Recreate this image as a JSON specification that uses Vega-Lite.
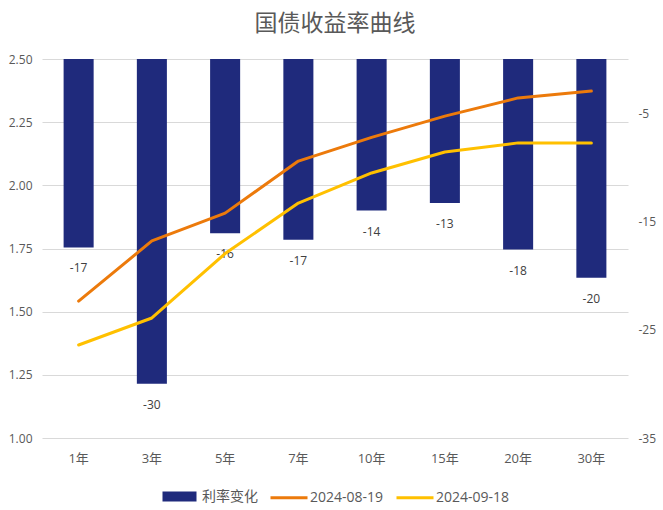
{
  "$schema": "https://vega.github.io/schema/vega-lite/v6.json",
  "width": 586,
  "height": 379,
  "autosize": {"type": "none"},
  "padding": {"left": 42, "top": 59, "right": 35, "bottom": 72},
  "background": "white",
  "title": {"text": "国债收益率曲线", "font": "Noto Sans CJK SC", "fontSize": 23, "fontWeight": "normal", "color": "#595959", "anchor": "middle", "offset": 17},
  "config": {"view": {"stroke": null}, "font": "Open Sans", "legend": {"layout": {"bottom": {"anchor": "middle"}}}},
  "datasets": {
    "bars": [
      {"term": "1年", "change": -17.4, "label": "-17", "series": "利率变化"},
      {"term": "3年", "change": -30.0, "label": "-30", "series": "利率变化"},
      {"term": "5年", "change": -16.1, "label": "-16", "series": "利率变化"},
      {"term": "7年", "change": -16.7, "label": "-17", "series": "利率变化"},
      {"term": "10年", "change": -14.0, "label": "-14", "series": "利率变化"},
      {"term": "15年", "change": -13.3, "label": "-13", "series": "利率变化"},
      {"term": "20年", "change": -17.6, "label": "-18", "series": "利率变化"},
      {"term": "30年", "change": -20.2, "label": "-20", "series": "利率变化"}
    ],
    "lines": [
      {"term": "1年", "yield": 1.542, "series": "2024-08-19"},
      {"term": "3年", "yield": 1.78, "series": "2024-08-19"},
      {"term": "5年", "yield": 1.89, "series": "2024-08-19"},
      {"term": "7年", "yield": 2.096, "series": "2024-08-19"},
      {"term": "10年", "yield": 2.19, "series": "2024-08-19"},
      {"term": "15年", "yield": 2.274, "series": "2024-08-19"},
      {"term": "20年", "yield": 2.346, "series": "2024-08-19"},
      {"term": "30年", "yield": 2.373, "series": "2024-08-19"},
      {"term": "1年", "yield": 1.368, "series": "2024-09-18"},
      {"term": "3年", "yield": 1.475, "series": "2024-09-18"},
      {"term": "5年", "yield": 1.73, "series": "2024-09-18"},
      {"term": "7年", "yield": 1.93, "series": "2024-09-18"},
      {"term": "10年", "yield": 2.049, "series": "2024-09-18"},
      {"term": "15年", "yield": 2.132, "series": "2024-09-18"},
      {"term": "20年", "yield": 2.168, "series": "2024-09-18"},
      {"term": "30年", "yield": 2.168, "series": "2024-09-18"}
    ]
  },
  "layer": [
    {
      "data": {"name": "bars"},
      "encoding": {
        "x": {"field": "term", "type": "nominal", "sort": null,
          "scale": {"paddingInner": 0.59, "paddingOuter": 0.295},
          "axis": {"title": null, "labelAngle": 0, "ticks": false, "domain": false, "labelFontSize": 13, "labelColor": "#595959", "labelPadding": 14, "labelFont": "Open Sans, Noto Sans CJK SC"}},
        "y": {"field": "change", "type": "quantitative",
          "scale": {"domain": [-35, 0], "nice": false, "zero": false},
          "axis": {"orient": "right", "title": null, "values": [-5, -15, -25, -35], "labelExpr": "'' + datum.value", "grid": false, "ticks": false, "domain": false, "labelFontSize": 12, "labelColor": "#595959", "labelPadding": 10}}
      },
      "layer": [
        {
          "mark": {"type": "bar", "color": "#1F2A7C"},
          "encoding": {
            "color": {"field": "series", "type": "nominal",
              "scale": {"domain": ["利率变化", "2024-08-19", "2024-09-18"], "range": ["#1F2A7C", "#EC7A0B", "#FFC000"]},
              "legend": {"orient": "bottom", "direction": "horizontal", "title": null, "labelFont": "Open Sans, Noto Sans CJK SC", "labelFontSize": 14, "labelColor": "#595959", "symbolSize": 400, "symbolStrokeWidth": 3, "labelOffset": 18, "columnPadding": 6, "offset": 20,
                "encode": {"symbols": {"update": {
                  "shape": {"signal": "datum.value === '利率变化' ? 'M-0.85,-0.35H2.25V0.35H-0.85Z' : 'M-1,0H2.7'"},
                  "fill": {"scale": "color", "field": "value"},
                  "stroke": {"scale": "color", "field": "value"},
                  "opacity": {"value": 1}
                }}}}
            }
          }
        },
        {
          "mark": {"type": "text", "baseline": "middle", "dy": 21, "fontSize": 12, "color": "#404040"},
          "encoding": {"text": {"field": "label"}}
        }
      ]
    },
    {
      "data": {"name": "lines"},
      "mark": {"type": "line", "strokeWidth": 3, "strokeCap": "round", "strokeJoin": "round"},
      "encoding": {
        "x": {"field": "term", "type": "nominal", "sort": null,
          "axis": {"title": null, "labelAngle": 0, "ticks": false, "domain": false, "labelFontSize": 13, "labelColor": "#595959", "labelPadding": 14, "labelFont": "Open Sans, Noto Sans CJK SC"}},
        "y": {"field": "yield", "type": "quantitative",
          "scale": {"domain": [1, 2.5], "nice": false, "zero": false},
          "axis": {"orient": "left", "title": null, "values": [1, 1.25, 1.5, 1.75, 2, 2.25, 2.5], "format": ".2f", "grid": true, "gridColor": "#D9D9D9", "ticks": false, "domain": false, "labelFontSize": 12, "labelColor": "#595959", "labelPadding": 10}},
        "color": {"field": "series", "type": "nominal",
          "scale": {"domain": ["利率变化", "2024-08-19", "2024-09-18"], "range": ["#1F2A7C", "#EC7A0B", "#FFC000"]}}
      }
    }
  ],
  "resolve": {"scale": {"y": "independent"}}
}
